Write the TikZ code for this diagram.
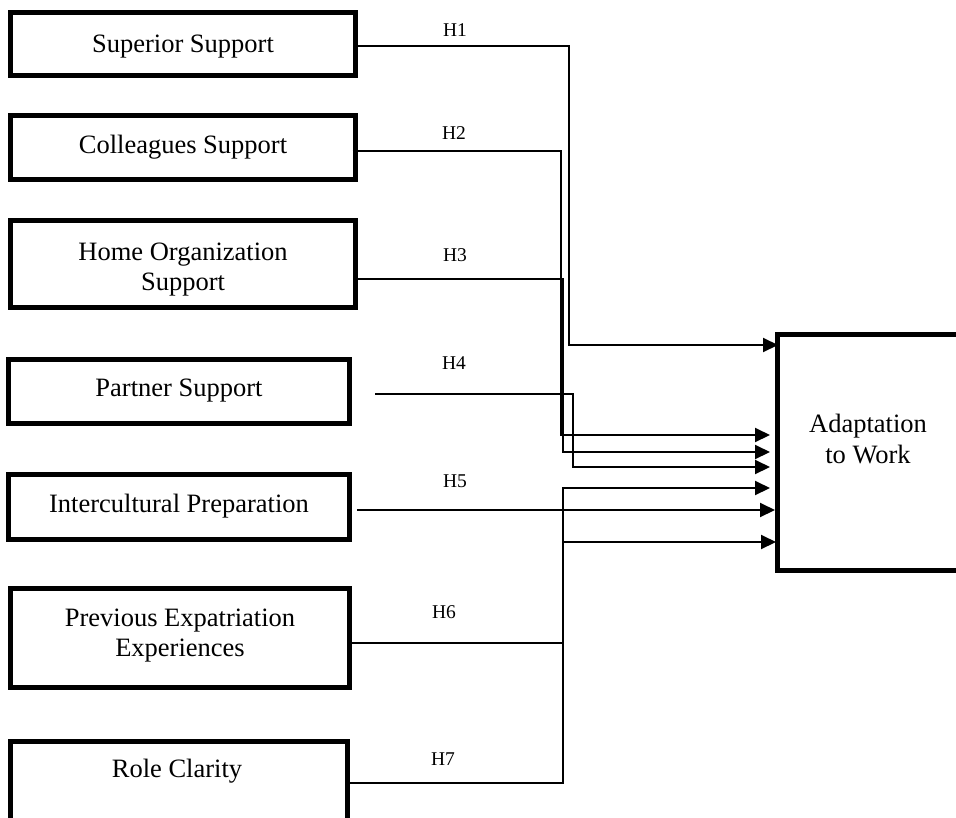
\documentclass[tikz,border=0pt]{standalone}
\usepackage{fontspec}
\setmainfont{Liberation Serif}
\usetikzlibrary{arrows.meta}
\begin{document}
\begin{tikzpicture}[x=1pt,y=-1pt,
  box/.style={draw, line width=5pt, inner sep=0pt},
  boxtext/.style={inner sep=0pt, align=center, font=\fontsize{26.5}{30}\selectfont},
  conn/.style={line width=2pt},
  arr/.style={conn, -{Triangle[length=15pt,width=14pt]}},
  hlab/.style={font=\fontsize{19.5}{22}\selectfont, inner sep=0pt}]
\useasboundingbox (0,0) rectangle (956,817);
% boxes
\node[box, minimum width=345pt, minimum height=63pt] (sup) at (183,44) {};
\node[box, minimum width=345pt, minimum height=64pt] (col) at (183,147.5) {};
\node[box, minimum width=345pt, minimum height=87pt] (home) at (183,264) {};
\node[box, minimum width=341pt, minimum height=64pt] (part) at (179,391.5) {};
\node[box, minimum width=341pt, minimum height=65pt] (inter) at (179,507) {};
\node[box, minimum width=339pt, minimum height=99pt] (prev) at (180,638) {};
\node[box, minimum width=337pt, minimum height=107pt] (role) at (179,794.5) {};
\node[box, minimum width=183.5pt, minimum height=236pt] (adapt) at (869.25,452.5) {};
% box texts
\node[boxtext] (suptext) at (183,47) {Superior Support};
\node[boxtext] (coltext) at (183,147.5) {Colleagues Support};
\node[boxtext] (hometext) at (183,270) {Home Organization\\Support};
\node[boxtext] (parttext) at (179,390.5) {Partner Support};
\node[boxtext] (intertext) at (179,506) {Intercultural Preparation};
\node[boxtext] (prevtext) at (180,635.5) {Previous Expatriation\\Experiences};
\node[boxtext] (roletext) at (177,771) {Role Clarity};
\node[boxtext, font=\fontsize{26.5}{31.5}\selectfont] (adapttext) at (868,439) {Adaptation\\to Work};
% free ends
\coordinate (s4) at (375,394);
\coordinate (s5) at (357,510);
\coordinate (e1) at (778,345);
\coordinate (e2) at (770,435);
\coordinate (e3) at (770,452);
\coordinate (e4) at (770,467);
\coordinate (e6) at (770,488);
\coordinate (e5) at (775,510);
\coordinate (e7) at (776,542);
% connectors
\draw[arr] ([yshift=-2pt]sup.east) -| (569,345) -- (e1);
\draw[arr] ([xshift=-5.5pt,yshift=-3.5pt]col.east) -| (561,435) -- (e2);
\draw[arr] ([yshift=-15pt]home.east) -| (563,452) -- (e3);
\draw[arr] (s4) -| (573,467) -- (e4);
\draw[arr] (s5) -- (e5);
\draw[arr] ([yshift=-5pt]prev.east) -| (563,488) -- (e6);
\draw[arr] ([yshift=11.5pt]role.east) -| (563,542) -- (e7);
% labels
\node[hlab] (h1) at (455,30) {H1};
\node[hlab] (h2) at (454,133) {H2};
\node[hlab] (h3) at (455,255) {H3};
\node[hlab] (h4) at (454,363) {H4};
\node[hlab] (h5) at (455,481) {H5};
\node[hlab] (h6) at (444,612) {H6};
\node[hlab] (h7) at (443,759) {H7};
\end{tikzpicture}
\end{document}
